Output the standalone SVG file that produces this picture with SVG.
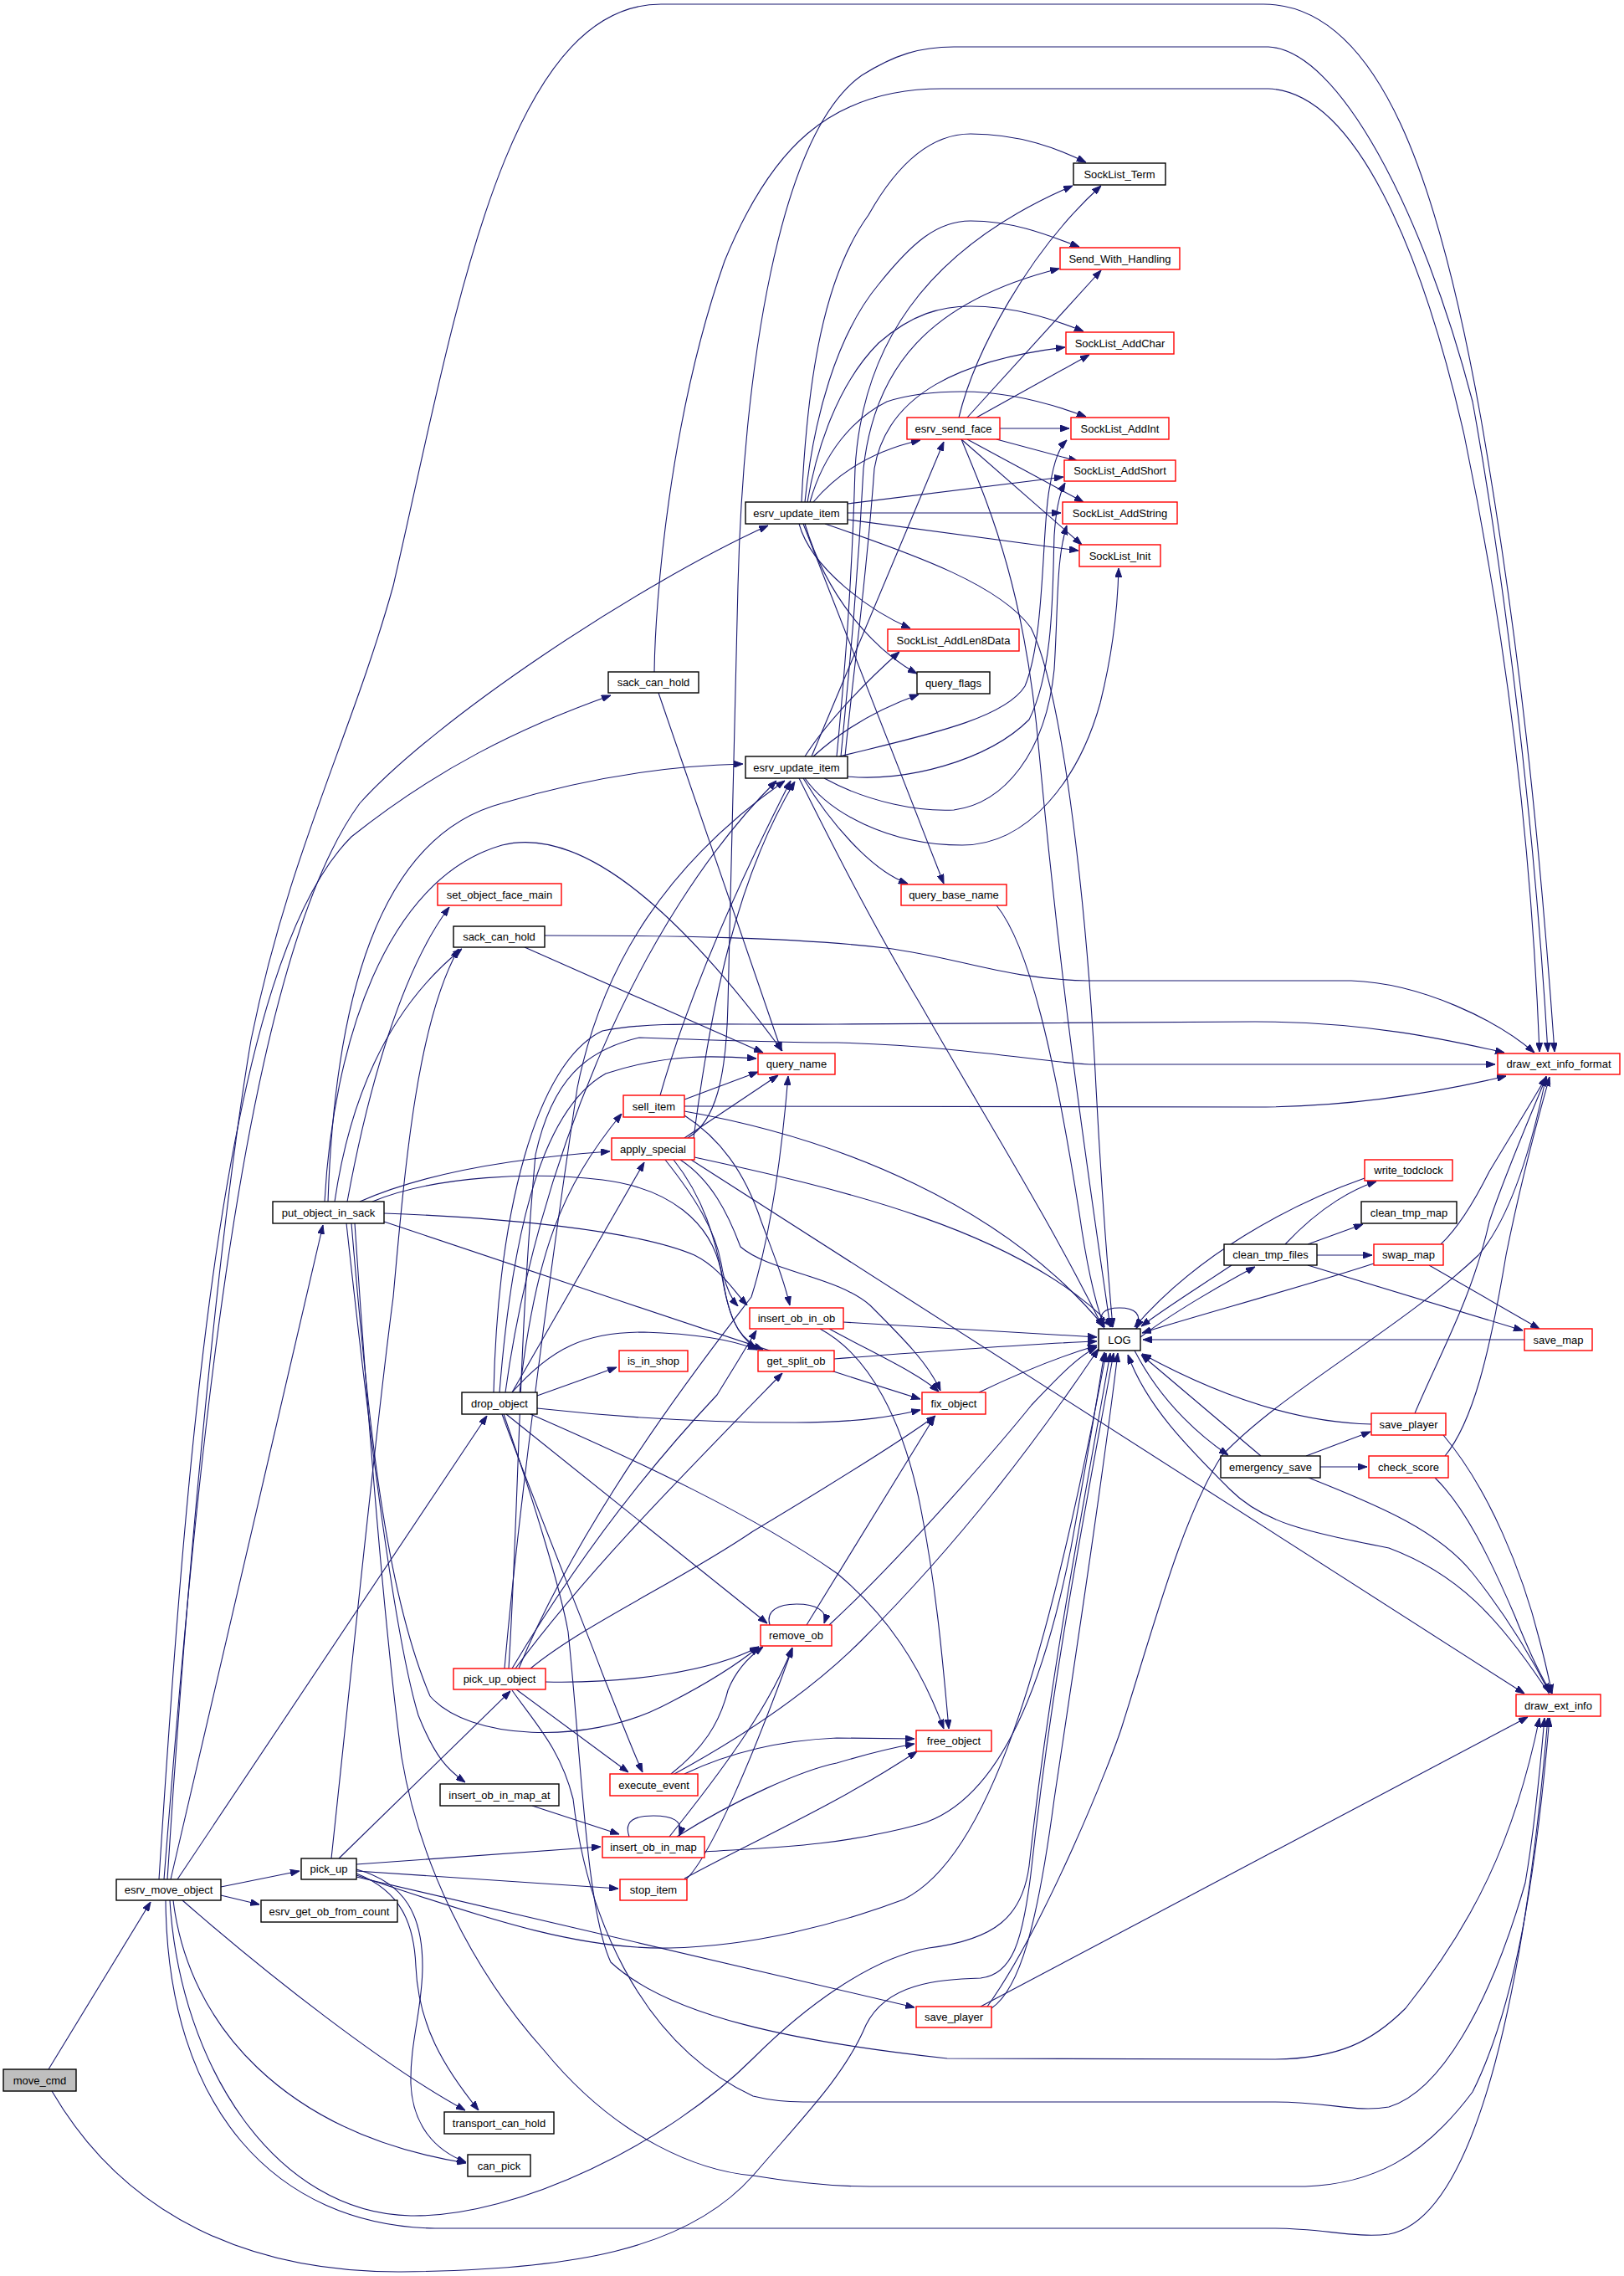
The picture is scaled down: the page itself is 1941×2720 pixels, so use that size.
<svg xmlns="http://www.w3.org/2000/svg" width="1941" height="2720" viewBox="0 0 1941 2720">
<defs>
<marker id="ah" viewBox="0 0 11 8" refX="11" refY="4" markerWidth="11" markerHeight="8" markerUnits="userSpaceOnUse" orient="auto"><path d="M0,0L11,4L0,8z" fill="#191970" stroke="#191970" stroke-width="1"/></marker>
<style>
.n rect{fill:#ffffff;stroke:#000000;stroke-width:1.4}
.r rect{stroke:#ff0000}
.root rect{fill:#bfbfbf}
.n text{font-family:"Liberation Sans",Arial,sans-serif;font-size:13px;text-anchor:middle;fill:#000}
#edges path{fill:none;stroke:#191970;stroke-width:1.1;marker-end:url(#ah)}
</style>
</defs>
<rect width="1941" height="2720" fill="#ffffff"/>
<g id="edges">
<path d="M58,2473 L180,2273"/>
<path d="M62,2499 C150,2650 300,2716 480,2715 C680,2713 820,2690 900,2600 C960,2530 1010,2480 1035,2420 C1060,2370 1120,2366 1172,2364 C1210,2360 1222,2320 1232,2240 C1258,2000 1298,1800 1331,1617"/>
<path d="M264,2255 L358,2236"/>
<path d="M264,2265 L310,2276"/>
<path d="M218,2271 C320,2360 460,2470 556,2522"/>
<path d="M207,2271 C225,2420 340,2550 557,2585"/>
<path d="M204,2246 L386,1464"/>
<path d="M212,2246 L582,1692"/>
<path d="M196,2246 C235,1750 290,1150 430,960 C520,860 760,700 918,628"/>
<path d="M190,2246 C225,1700 270,1150 420,1000 C520,920 620,870 730,831"/>
<path d="M200,2246 C225,1850 265,1450 300,1243 C345,1020 420,880 470,700 C540,400 600,5 790,5 L1510,5 C1650,5 1720,220 1770,500 C1815,760 1840,1000 1858,1257"/>
<path d="M203,2271 C215,2470 330,2645 491,2648 C620,2650 800,2560 900,2460 C960,2400 1040,2340 1110,2328 C1190,2318 1222,2290 1230,2230 C1255,2000 1295,1800 1327,1617"/>
<path d="M198,2271 C200,2520 330,2660 520,2663 L1524,2663 C1580,2663 1620,2675 1660,2670 C1770,2650 1825,2350 1850,2053"/>
<path d="M405,2221 L610,2021"/>
<path d="M426,2228 L718,2207"/>
<path d="M426,2236 L739,2257"/>
<path d="M426,2239 C480,2260 495,2300 497,2350 C500,2420 530,2470 572,2522"/>
<path d="M426,2234 C485,2250 505,2290 505,2350 C505,2400 490,2440 491,2490 C493,2540 520,2570 557,2584"/>
<path d="M396,2221 C425,1950 450,1700 470,1550 C485,1380 500,1220 548,1134"/>
<path d="M426,2243 L1093,2399"/>
<path d="M426,2241 C600,2300 700,2330 800,2328 C900,2326 1000,2300 1080,2270 C1180,2220 1250,2000 1322,1617"/>
<path d="M415,1436 C440,1300 480,1160 537,1084"/>
<path d="M400,1436 C420,1300 470,1200 552,1134"/>
<path d="M392,1436 C400,1200 450,1000 600,960 C700,930 800,915 888,913"/>
<path d="M388,1436 C398,1250 460,1050 600,1010 C700,985 820,1100 935,1256"/>
<path d="M430,1436 C500,1405 600,1385 729,1376"/>
<path d="M459,1450 C600,1455 760,1470 830,1500 C860,1515 875,1540 893,1560"/>
<path d="M445,1436 C520,1405 640,1400 720,1410 C800,1420 850,1460 862,1520 C870,1570 880,1595 904,1612"/>
<path d="M459,1460 C700,1540 900,1610 1100,1672"/>
<path d="M420,1462 C440,1700 460,1900 514,2027 C560,2080 700,2085 790,2040 C840,2015 880,1990 907,1968"/>
<path d="M414,1462 C440,1700 470,1950 500,2050 C520,2100 535,2115 556,2130"/>
<path d="M424,1462 C440,1700 460,1950 480,2100 C500,2220 560,2350 650,2450 C740,2560 840,2595 900,2600 C960,2610 1000,2613 1040,2613 L1560,2613 C1640,2610 1700,2580 1760,2500 C1810,2400 1835,2250 1852,2053"/>
<path d="M642,1668 L737,1634"/>
<path d="M642,1683 C750,1695 850,1700 950,1700 C1030,1700 1070,1692 1100,1685"/>
<path d="M612,1664 C660,1610 700,1592 770,1592 C840,1594 880,1603 905,1613"/>
<path d="M612,1664 L770,1389"/>
<path d="M605,1690 L917,1940"/>
<path d="M634,1690 C760,1745 900,1810 1000,1880 C1060,1930 1100,1990 1128,2066"/>
<path d="M600,1690 C640,1800 690,1920 720,2000 C740,2050 755,2090 768,2118"/>
<path d="M621,1664 C640,1500 670,1420 743,1331"/>
<path d="M597,1664 C610,1500 640,1330 724,1283 C800,1258 860,1262 904,1265"/>
<path d="M590,1664 C595,1450 640,1270 720,1232 C780,1220 850,1225 1000,1224 L1500,1221 C1640,1221 1740,1245 1798,1258"/>
<path d="M604,1664 C640,1400 760,1100 928,933"/>
<path d="M602,1690 C640,1800 670,1900 679,1950 C695,2100 700,2280 730,2345 C800,2410 950,2440 1132,2460 L1524,2461 C1600,2460 1640,2440 1680,2400 C1760,2300 1810,2200 1840,2053"/>
<path d="M652,2010 C750,2012 850,1998 907,1968"/>
<path d="M617,2019 L751,2118"/>
<path d="M612,1994 C680,1880 760,1770 857,1667 C880,1630 892,1610 904,1590"/>
<path d="M616,1994 C700,1880 812,1767 935,1641"/>
<path d="M634,1994 C700,1940 812,1890 900,1830 C1000,1770 1080,1720 1118,1692"/>
<path d="M603,1994 C620,1800 660,1500 690,1300 C720,1150 800,1030 938,933"/>
<path d="M620,1994 C700,1800 860,1600 898,1550 C920,1480 934,1383 942,1286"/>
<path d="M608,1994 C620,1800 620,1600 640,1380 C660,1290 700,1255 764,1240 C850,1243 950,1246 1000,1246 C1150,1250 1250,1270 1302,1272 L1787,1272"/>
<path d="M612,2020 C640,2060 670,2090 685,2150 C700,2280 760,2440 900,2505 C920,2510 940,2512 960,2512 L1524,2512 C1590,2512 1620,2525 1660,2518 C1720,2500 1780,2400 1823,2250 C1835,2180 1842,2100 1846,2053"/>
<path d="M818,1314 L906,1281"/>
<path d="M818,1322 L1500,1323 C1620,1323 1720,1305 1800,1286"/>
<path d="M818,1328 C1000,1360 1200,1440 1320,1586"/>
<path d="M818,1333 C860,1360 890,1400 910,1460 C925,1500 937,1530 944,1560"/>
<path d="M789,1309 C820,1200 870,1080 945,933"/>
<path d="M818,1360 L930,1285"/>
<path d="M830,1383 C1000,1420 1220,1470 1330,1586"/>
<path d="M826,1386 L1822,2024"/>
<path d="M795,1386 C830,1430 855,1470 862,1510 C866,1535 872,1550 882,1561"/>
<path d="M805,1386 C840,1430 856,1480 866,1540 C874,1585 888,1603 912,1613"/>
<path d="M813,1386 C850,1410 870,1450 885,1490 C920,1520 1000,1525 1040,1560 C1080,1600 1110,1630 1124,1662"/>
<path d="M829,1360 C850,1200 880,1050 950,934"/>
<path d="M822,1360 C855,1340 868,1290 870,1200 C874,1050 878,900 882,700 C888,450 930,160 1030,90 C1070,65 1100,56 1140,56 L1516,56 C1600,60 1700,250 1760,480 C1800,700 1835,1000 1850,1257"/>
<path d="M787,828 L934,1256"/>
<path d="M782,803 C783,720 800,500 866,312 C920,180 990,106 1126,106 L1516,106 C1620,110 1700,300 1750,520 C1800,760 1830,1000 1840,1257"/>
<path d="M627,1132 L912,1258"/>
<path d="M651,1118 C800,1118 950,1120 1059,1133 C1150,1145 1200,1170 1300,1172 L1615,1172 C1700,1175 1790,1220 1834,1258"/>
<path d="M972,600 C1010,555 1060,535 1100,526"/>
<path d="M958,600 C965,450 985,330 1038,257 C1070,200 1110,160 1160,160 C1220,160 1265,178 1298,194"/>
<path d="M962,600 C972,500 1000,400 1050,340 C1090,290 1120,264 1160,264 C1210,264 1250,280 1290,295"/>
<path d="M965,600 C975,540 1000,460 1050,410 C1090,375 1125,366 1160,366 C1210,366 1255,380 1295,396"/>
<path d="M968,600 C985,540 1020,500 1060,480 C1090,470 1120,468 1150,468 C1200,468 1250,480 1298,498"/>
<path d="M1013,602 L1271,570"/>
<path d="M1013,613 L1268,613"/>
<path d="M1013,621 L1289,658"/>
<path d="M955,626 C970,680 1040,730 1088,751"/>
<path d="M962,626 C990,720 1050,780 1096,805"/>
<path d="M960,626 L1128,1056"/>
<path d="M986,626 C1100,665 1195,700 1232,750 C1272,830 1300,1100 1310,1300 C1318,1450 1325,1530 1330,1586"/>
<path d="M970,904 L1128,528"/>
<path d="M1000,904 C1010,800 1018,700 1022,560 C1030,420 1100,300 1282,222"/>
<path d="M1005,904 C1015,800 1025,700 1032,560 C1045,440 1110,360 1266,321"/>
<path d="M1010,904 C1020,800 1035,700 1045,560 C1060,470 1150,430 1273,415"/>
<path d="M1003,904 C1100,880 1200,860 1225,820 C1250,760 1245,620 1255,580 C1260,550 1266,535 1275,526"/>
<path d="M1013,928 C1080,935 1180,910 1230,860 C1260,800 1258,700 1260,640 C1262,610 1266,590 1273,577"/>
<path d="M985,930 C1040,960 1100,970 1140,968 C1200,960 1250,900 1260,800 C1265,720 1262,670 1275,628"/>
<path d="M962,930 C990,970 1060,1010 1150,1010 C1230,1010 1290,930 1315,840 C1330,780 1336,720 1337,679"/>
<path d="M962,904 C990,860 1040,810 1075,779"/>
<path d="M972,904 C1020,860 1070,840 1098,830"/>
<path d="M960,930 C990,980 1040,1040 1085,1056"/>
<path d="M955,930 C990,1000 1040,1100 1100,1200 C1180,1340 1250,1450 1318,1586"/>
<path d="M1146,499 C1165,420 1230,300 1316,222"/>
<path d="M1156,499 L1316,323"/>
<path d="M1167,499 L1302,424"/>
<path d="M1195,512 L1278,512"/>
<path d="M1191,525 L1288,551"/>
<path d="M1156,525 L1295,600"/>
<path d="M1149,525 L1293,651"/>
<path d="M1149,525 C1180,600 1225,700 1242,900 C1270,1200 1300,1400 1327,1586"/>
<path d="M1191,1082 C1230,1130 1260,1260 1290,1450 C1300,1520 1310,1560 1320,1586"/>
<path d="M1008,1580 C1150,1588 1250,1594 1311,1598"/>
<path d="M991,1588 C1050,1620 1095,1640 1122,1663"/>
<path d="M980,1588 C1040,1620 1080,1700 1100,1800 C1120,1900 1128,2000 1134,2066"/>
<path d="M997,1624 C1150,1612 1250,1605 1311,1603"/>
<path d="M1170,1664 C1220,1640 1270,1620 1311,1608"/>
<path d="M920,1942 C915,1925 930,1917 952,1917 C975,1917 990,1925 985,1940"/>
<path d="M964,1942 L1117,1693"/>
<path d="M991,1942 C1080,1860 1200,1720 1233,1679 C1270,1640 1290,1620 1311,1610"/>
<path d="M802,2120 C840,2090 860,2060 870,2020 C880,1995 895,1980 912,1968"/>
<path d="M818,2120 C870,2095 930,2080 1000,2077 L1093,2078"/>
<path d="M806,2120 C870,2085 960,2030 1030,1960 C1150,1840 1240,1720 1313,1612"/>
<path d="M752,2195 C745,2175 760,2170 781,2170 C802,2170 818,2175 812,2194"/>
<path d="M800,2195 C860,2120 920,2040 947,1969"/>
<path d="M809,2195 C880,2150 960,2115 1000,2107 C1040,2095 1070,2088 1093,2084"/>
<path d="M842,2213 C920,2208 1000,2207 1100,2180 C1200,2150 1250,2000 1280,1850 C1300,1740 1310,1680 1320,1616"/>
<path d="M820,2246 C850,2217 900,2100 947,1970"/>
<path d="M818,2245 C900,2200 1000,2157 1096,2093"/>
<path d="M1185,2400 C1219,2377 1240,2300 1260,2150 C1290,1950 1320,1750 1336,1617"/>
<path d="M1180,2398 C1250,2300 1330,2100 1342,2060 C1380,1940 1413,1814 1460,1740 C1531,1664 1673,1589 1767,1500 C1810,1450 1835,1350 1848,1286"/>
<path d="M1172,2398 L1826,2052"/>
<path d="M1320,1588 C1310,1570 1320,1563 1338,1563 C1356,1563 1366,1570 1358,1588"/>
<path d="M1363,1598 C1400,1570 1460,1535 1500,1514"/>
<path d="M1472,1512 C1430,1540 1390,1565 1364,1585"/>
<path d="M1356,1614 C1390,1680 1440,1720 1468,1739"/>
<path d="M1507,1740 C1460,1700 1400,1650 1364,1619"/>
<path d="M1852,2025 C1790,1930 1740,1880 1660,1850 C1560,1830 1510,1820 1470,1780 C1420,1730 1370,1680 1348,1619"/>
<path d="M1642,1510 C1550,1540 1420,1575 1365,1593"/>
<path d="M1822,1601 L1366,1601"/>
<path d="M1639,1702 C1550,1700 1460,1670 1365,1618"/>
<path d="M1631,1408 C1540,1440 1430,1500 1356,1586"/>
<path d="M1536,1487 C1580,1440 1620,1420 1645,1412"/>
<path d="M1563,1487 L1629,1463"/>
<path d="M1574,1500 L1640,1500"/>
<path d="M1563,1512 L1820,1590"/>
<path d="M1708,1512 L1840,1588"/>
<path d="M1722,1487 C1740,1470 1760,1440 1780,1400 C1810,1350 1835,1310 1848,1287"/>
<path d="M1561,1740 L1638,1711"/>
<path d="M1578,1753 L1634,1753"/>
<path d="M1564,1766 C1650,1800 1720,1830 1760,1880 C1800,1930 1830,1980 1852,2023"/>
<path d="M1727,1740 C1760,1700 1780,1620 1800,1500 C1820,1400 1840,1330 1852,1287"/>
<path d="M1715,1766 C1750,1800 1780,1860 1810,1930 C1830,1980 1845,2010 1855,2024"/>
<path d="M1691,1689 C1720,1620 1760,1550 1780,1460 C1800,1400 1835,1320 1848,1287"/>
<path d="M1725,1715 C1780,1780 1820,1880 1840,1960 C1848,1990 1852,2010 1855,2024"/>
<path d="M636,2158 L740,2192"/>
</g>
<g id="n_move_cmd" class="n root"><rect x="4" y="2473" width="87" height="26"/><text x="47.5" y="2490.5">move_cmd</text></g>
<g id="n_esrv_move_object" class="n"><rect x="139" y="2246" width="125" height="25"/><text x="201.5" y="2263">esrv_move_object</text></g>
<g id="n_pick_up" class="n"><rect x="360" y="2221" width="66" height="25"/><text x="393" y="2238">pick_up</text></g>
<g id="n_esrv_get_ob_from_count" class="n"><rect x="312" y="2271" width="163" height="26"/><text x="393.5" y="2288.5">esrv_get_ob_from_count</text></g>
<g id="n_transport_can_hold" class="n"><rect x="531" y="2524" width="131" height="26"/><text x="596.5" y="2541.5">transport_can_hold</text></g>
<g id="n_can_pick" class="n"><rect x="559" y="2575" width="75" height="26"/><text x="596.5" y="2592.5">can_pick</text></g>
<g id="n_put_object_in_sack" class="n"><rect x="326" y="1436" width="133" height="26"/><text x="392.5" y="1453.5">put_object_in_sack</text></g>
<g id="n_sack_can_hold_1" class="n"><rect x="727" y="803" width="108" height="25"/><text x="781" y="820">sack_can_hold</text></g>
<g id="n_sack_can_hold_2" class="n"><rect x="542" y="1107" width="109" height="25"/><text x="596.5" y="1124">sack_can_hold</text></g>
<g id="n_set_object_face_main" class="n r"><rect x="523" y="1056" width="148" height="26"/><text x="597" y="1073.5">set_object_face_main</text></g>
<g id="n_drop_object" class="n"><rect x="552" y="1664" width="90" height="26"/><text x="597" y="1681.5">drop_object</text></g>
<g id="n_pick_up_object" class="n r"><rect x="542" y="1994" width="110" height="25"/><text x="597" y="2011">pick_up_object</text></g>
<g id="n_insert_ob_in_map_at" class="n"><rect x="526" y="2132" width="142" height="26"/><text x="597" y="2149.5">insert_ob_in_map_at</text></g>
<g id="n_esrv_update_item_1" class="n"><rect x="891" y="600" width="122" height="26"/><text x="952" y="617.5">esrv_update_item</text></g>
<g id="n_esrv_update_item_2" class="n"><rect x="891" y="904" width="122" height="26"/><text x="952" y="921.5">esrv_update_item</text></g>
<g id="n_esrv_send_face" class="n r"><rect x="1084" y="499" width="111" height="26"/><text x="1139.5" y="516.5">esrv_send_face</text></g>
<g id="n_SockList_Term" class="n"><rect x="1283" y="195" width="110" height="26"/><text x="1338" y="212.5">SockList_Term</text></g>
<g id="n_Send_With_Handling" class="n r"><rect x="1267" y="296" width="143" height="26"/><text x="1338.5" y="313.5">Send_With_Handling</text></g>
<g id="n_SockList_AddChar" class="n r"><rect x="1274" y="397" width="129" height="26"/><text x="1338.5" y="414.5">SockList_AddChar</text></g>
<g id="n_SockList_AddInt" class="n r"><rect x="1280" y="499" width="117" height="26"/><text x="1338.5" y="516.5">SockList_AddInt</text></g>
<g id="n_SockList_AddShort" class="n r"><rect x="1272" y="550" width="133" height="25"/><text x="1338.5" y="567">SockList_AddShort</text></g>
<g id="n_SockList_AddString" class="n r"><rect x="1270" y="600" width="137" height="26"/><text x="1338.5" y="617.5">SockList_AddString</text></g>
<g id="n_SockList_Init" class="n r"><rect x="1290" y="651" width="97" height="26"/><text x="1338.5" y="668.5">SockList_Init</text></g>
<g id="n_SockList_AddLen8Data" class="n r"><rect x="1061" y="752" width="157" height="26"/><text x="1139.5" y="769.5">SockList_AddLen8Data</text></g>
<g id="n_query_flags" class="n"><rect x="1096" y="803" width="87" height="26"/><text x="1139.5" y="820.5">query_flags</text></g>
<g id="n_query_base_name" class="n r"><rect x="1077" y="1057" width="126" height="25"/><text x="1140" y="1074">query_base_name</text></g>
<g id="n_query_name" class="n r"><rect x="906" y="1259" width="92" height="25"/><text x="952" y="1276">query_name</text></g>
<g id="n_draw_ext_info_format" class="n r"><rect x="1790" y="1259" width="146" height="25"/><text x="1863" y="1276">draw_ext_info_format</text></g>
<g id="n_sell_item" class="n r"><rect x="745" y="1309" width="73" height="26"/><text x="781.5" y="1326.5">sell_item</text></g>
<g id="n_apply_special" class="n r"><rect x="731" y="1360" width="99" height="26"/><text x="780.5" y="1377.5">apply_special</text></g>
<g id="n_insert_ob_in_ob" class="n r"><rect x="896" y="1563" width="112" height="25"/><text x="952" y="1580">insert_ob_in_ob</text></g>
<g id="n_get_split_ob" class="n r"><rect x="906" y="1614" width="91" height="25"/><text x="951.5" y="1631">get_split_ob</text></g>
<g id="n_is_in_shop" class="n r"><rect x="740" y="1614" width="82" height="25"/><text x="781" y="1631">is_in_shop</text></g>
<g id="n_fix_object" class="n r"><rect x="1102" y="1664" width="76" height="26"/><text x="1140" y="1681.5">fix_object</text></g>
<g id="n_remove_ob" class="n r"><rect x="909" y="1942" width="85" height="25"/><text x="951.5" y="1959">remove_ob</text></g>
<g id="n_execute_event" class="n r"><rect x="729" y="2120" width="105" height="26"/><text x="781.5" y="2137.5">execute_event</text></g>
<g id="n_insert_ob_in_map" class="n r"><rect x="720" y="2195" width="122" height="25"/><text x="781" y="2212">insert_ob_in_map</text></g>
<g id="n_stop_item" class="n r"><rect x="741" y="2246" width="80" height="25"/><text x="781" y="2263">stop_item</text></g>
<g id="n_free_object" class="n r"><rect x="1095" y="2068" width="90" height="25"/><text x="1140" y="2085">free_object</text></g>
<g id="n_save_player_2" class="n r"><rect x="1095" y="2398" width="90" height="25"/><text x="1140" y="2415">save_player</text></g>
<g id="n_LOG" class="n"><rect x="1313" y="1588" width="50" height="26"/><text x="1338" y="1605.5">LOG</text></g>
<g id="n_write_todclock" class="n r"><rect x="1631" y="1386" width="105" height="25"/><text x="1683.5" y="1403">write_todclock</text></g>
<g id="n_clean_tmp_map" class="n"><rect x="1627" y="1436" width="114" height="26"/><text x="1684" y="1453.5">clean_tmp_map</text></g>
<g id="n_clean_tmp_files" class="n"><rect x="1463" y="1487" width="111" height="25"/><text x="1518.5" y="1504">clean_tmp_files</text></g>
<g id="n_swap_map" class="n r"><rect x="1642" y="1487" width="83" height="25"/><text x="1683.5" y="1504">swap_map</text></g>
<g id="n_save_map" class="n r"><rect x="1822" y="1588" width="81" height="26"/><text x="1862.5" y="1605.5">save_map</text></g>
<g id="n_save_player_1" class="n r"><rect x="1639" y="1689" width="89" height="26"/><text x="1683.5" y="1706.5">save_player</text></g>
<g id="n_emergency_save" class="n"><rect x="1459" y="1740" width="119" height="26"/><text x="1518.5" y="1757.5">emergency_save</text></g>
<g id="n_check_score" class="n r"><rect x="1636" y="1740" width="95" height="26"/><text x="1683.5" y="1757.5">check_score</text></g>
<g id="n_draw_ext_info" class="n r"><rect x="1812" y="2025" width="101" height="26"/><text x="1862.5" y="2042.5">draw_ext_info</text></g>
</svg>
